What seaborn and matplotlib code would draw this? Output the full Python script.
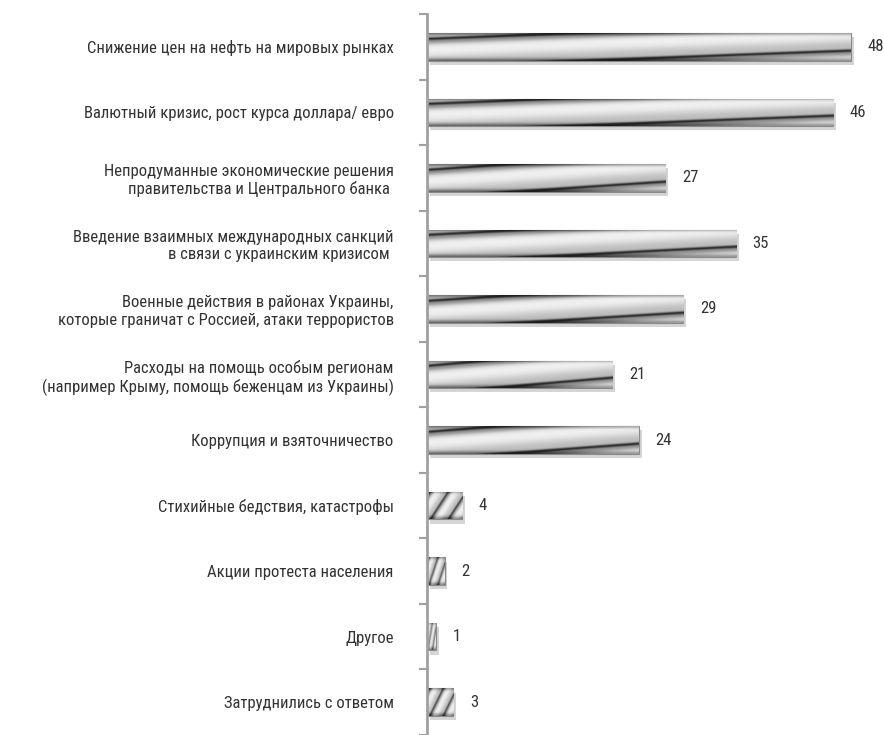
import numpy as np
import pandas as pd
import seaborn as sns
import matplotlib.pyplot as plt
import matplotlib.patheffects as pe

# data
categories = [
    "Снижение цен на нефть на мировых рынках",
    "Валютный кризис, рост курса доллара/ евро",
    "Непродуманные экономические решения\nправительства и Центрального банка ",
    "Введение взаимных международных санкций\nв связи с украинским кризисом ",
    "Военные действия в районах Украины,\nкоторые граничат с Россией, атаки террористов",
    "Расходы на помощь особым регионам\n(например Крыму, помощь беженцам из Украины)",
    "Коррупция и взяточничество",
    "Стихийные бедствия, катастрофы",
    "Акции протеста населения",
    "Другое",
    "Затруднились с ответом",
]
values = [48, 46, 27, 35, 29, 21, 24, 4, 2, 1, 3]

df = pd.DataFrame({"reason": categories, "share": values})

sns.set_style("white")
plt.rcParams['font.family'] = ['Liberation Sans Narrow', 'Roboto Condensed', 'DejaVu Sans']

fig, ax = plt.subplots(figsize=(8.84, 7.35), dpi=100)
ax.set_position([427/884, 0, 457/884, 721/735])

sns.barplot(data=df, x="share", y="reason", orient="h", color="#c8c8c8",
            width=0.42, edgecolor="#8a8a8a", linewidth=0.8, ax=ax)


#silver twisted texture, stretched over each bar
def metal(nu, nv, k):
    u = np.linspace(0, 1, nu)[None, :]
    v = np.linspace(0, 1, nv)[:, None]
    phase = k*u + v
    frac = phase % 1
    val = 0.84 + 0.1*np.cos(2*np.pi*(phase-0.6))
    val = val - 0.6*np.exp(-((frac-0.2)/0.045)**2)
    val = val - 0.22*np.exp(-((frac-0.3)/0.1)**2)
    val = val - 0.3*np.exp(-(v/0.07)**2) - 0.35*np.exp(-((1-v)/0.09)**2)
    return np.clip(val, 0.12, 0.98)


for p in ax.patches:
    x0, y0 = p.get_x(), p.get_y()
    w, h = p.get_width(), p.get_height()
    k = 0.57 if w > 10 else 2.0
    p.set_path_effects([pe.SimplePatchShadow(offset=(2, -3), shadow_rgbFace="#888888", alpha=0.35), pe.Normal()])
    im = ax.imshow(metal(240, 60, k), cmap="gray", vmin=0, vmax=1, extent=(x0, x0+w, y0+h, y0),
                   origin="upper", aspect="auto", interpolation="bicubic",
                   zorder=p.get_zorder()+0.1)
    im.set_clip_path(p)

ax.bar_label(ax.containers[0], padding=12, fontsize=12, color="#333333")

ax.set_xlim(0, 51.75)
ax.set_ylim(10.42, -0.5)
ax.set_xlabel("")
ax.set_ylabel("")
ax.set_xticks([])

for s in ["top", "right", "bottom"]:
    ax.spines[s].set_visible(False)
ax.spines["left"].set_color("#a0a0a0")
ax.spines["left"].set_linewidth(2)

ax.set_yticks(np.arange(-0.5, 11, 1), minor=True)
ax.tick_params(axis="y", which="major", length=0, pad=24, labelsize=12, labelcolor="#333333")
ax.tick_params(axis="y", which="minor", length=6, width=1.5, color="#a0a0a0", left=True)

plt.savefig("out.png", dpi=100)
